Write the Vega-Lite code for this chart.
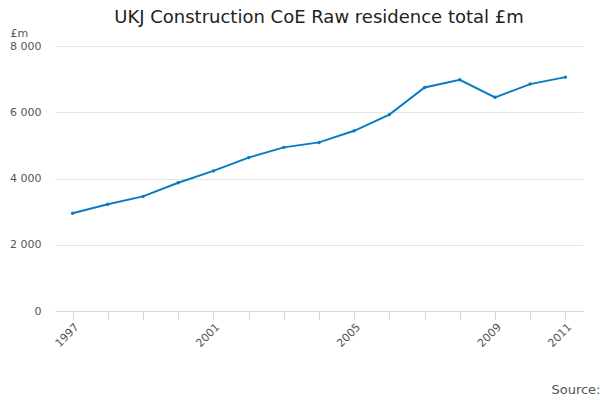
{
"$schema":"https://vega.github.io/schema/vega-lite/v6.json",
"width":528,"height":265,
"autosize":{"type":"none"},
"padding":{"left":55,"top":46,"right":17,"bottom":89},
"title":{"text":"UKJ Construction CoE Raw residence total £m","fontSize":18,"font":"DejaVu Sans","fontWeight":"normal","color":"#222","offset":0},
"config":{"view":{"stroke":null},"font":"DejaVu Sans"},
"data":{"values":[
{"year":1997,"v":2950,"s":"UKJ Construction CoE Raw residence total £m"},
{"year":1998,"v":3220,"s":"UKJ Construction CoE Raw residence total £m"},
{"year":1999,"v":3460,"s":"UKJ Construction CoE Raw residence total £m"},
{"year":2000,"v":3870,"s":"UKJ Construction CoE Raw residence total £m"},
{"year":2001,"v":4230,"s":"UKJ Construction CoE Raw residence total £m"},
{"year":2002,"v":4630,"s":"UKJ Construction CoE Raw residence total £m"},
{"year":2003,"v":4940,"s":"UKJ Construction CoE Raw residence total £m"},
{"year":2004,"v":5090,"s":"UKJ Construction CoE Raw residence total £m"},
{"year":2005,"v":5440,"s":"UKJ Construction CoE Raw residence total £m"},
{"year":2006,"v":5930,"s":"UKJ Construction CoE Raw residence total £m"},
{"year":2007,"v":6750,"s":"UKJ Construction CoE Raw residence total £m"},
{"year":2008,"v":6980,"s":"UKJ Construction CoE Raw residence total £m"},
{"year":2009,"v":6450,"s":"UKJ Construction CoE Raw residence total £m"},
{"year":2010,"v":6850,"s":"UKJ Construction CoE Raw residence total £m"},
{"year":2011,"v":7060,"s":"UKJ Construction CoE Raw residence total £m"}
]},
"mark":{"type":"line","point":{"size":12,"filled":true},"strokeWidth":2},
"encoding":{
"x":{"field":"year","type":"quantitative","scale":{"domain":[1996.5,2011.5],"nice":false,"zero":false},
"axis":{"values":[1997,1998,1999,2000,2001,2002,2003,2004,2005,2006,2007,2008,2009,2010,2011],"labelExpr":"indexof([1997,2001,2005,2009,2011],datum.value)>=0 ? datum.value : ''","labelAngle":-45,"labelAlign":"right","labelFontSize":11,"labelColor":"#555","grid":false,"domainColor":"#ccd6eb","tickColor":"#ccd6eb","tickSize":8,
"title":"Source:","titleAnchor":"end","titleFontWeight":"normal","titleFontSize":13,"titleColor":"#555","titleY":72,"titleX":545}},
"y":{"field":"v","type":"quantitative","scale":{"domain":[0,8000]},
"axis":{"values":[0,2000,4000,6000,8000],"labelExpr":"replace(format(datum.value,','),',',' ')","labelFontSize":11,"labelColor":"#555","domain":false,"ticks":false,"gridColor":"#e6e6e6","labelPadding":14,
"title":"£m","titleAngle":0,"titleAlign":"left","titleX":-45,"titleY":-8,"titleFontWeight":"normal","titleFontSize":11,"titleColor":"#555"}},
"color":{"field":"s","type":"nominal","scale":{"range":["#0b7bc1"]},
"legend":{"orient":"bottom","title":null,"labelFontSize":13,"labelFontWeight":"bold","labelColor":"#333","symbolType":"stroke","symbolStrokeWidth":2,"offset":10,"labelLimit":400}}
}
}
